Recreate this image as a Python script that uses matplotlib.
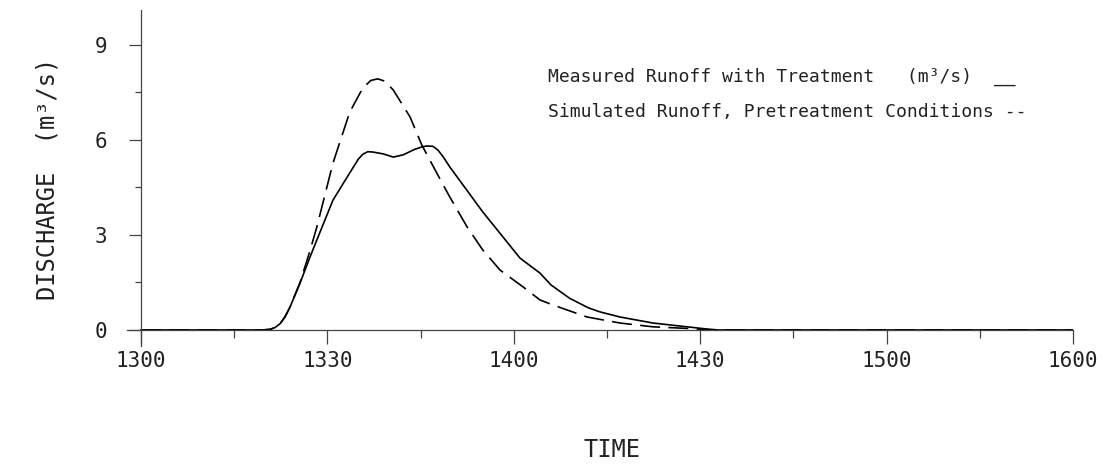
import numpy as np
import matplotlib
matplotlib.use('Agg')
import matplotlib.pyplot as plt

# minutes after 13:00
t_meas = [0, 19.5, 20.8, 21.6, 22.4, 23.2, 24.0, 25.6, 27.2, 28.3, 30.9, 33.6, 35.0,
          35.7, 36.5, 37.3, 39.0, 40.6, 42.2, 44.0, 45.2, 46.0, 47.0, 47.8, 48.6,
          49.7, 52.5, 55.0, 57.8, 61.0, 64.2, 66.0, 69.0, 72.0, 73.9, 77.1, 82.4,
          87.9, 91.1, 93, 150]
q_meas = [0, 0, 0.02, 0.08, 0.2, 0.42, 0.73, 1.48, 2.3, 2.84, 4.10, 4.96, 5.40,
          5.55, 5.63, 5.62, 5.56, 5.46, 5.53, 5.70, 5.78, 5.81, 5.80, 5.68, 5.48,
          5.15, 4.40, 3.73, 3.05, 2.27, 1.80, 1.42, 1.00, 0.70, 0.57, 0.41, 0.22,
          0.10, 0.03, 0, 0]

t_sim = [0, 19.5, 20.8, 21.6, 22.4, 23.2, 24.0, 25.6, 27.2, 28.3, 30.9, 33.6, 35.7,
         37.0, 38.1, 39.2, 40.6, 43.3, 45.2, 47.6, 49.7, 52.5, 55.0, 57.8, 61.5,
         64.2, 66.3, 71.8, 77.1, 82.4, 87.9, 92, 150]
q_sim = [0, 0, 0.02, 0.08, 0.2, 0.42, 0.73, 1.5, 2.5, 3.25, 5.27, 6.88, 7.64,
         7.88, 7.93, 7.86, 7.58, 6.73, 5.84, 4.96, 4.20, 3.25, 2.53, 1.89, 1.36,
         0.95, 0.79, 0.41, 0.22, 0.10, 0.05, 0, 0]

xticks = [0, 30, 60, 90, 120, 150]
xlabels = ['1300', '1330', '1400', '1430', '1500', '1600']
yticks = [0, 3, 6, 9]

plt.rcParams['font.family'] = 'DejaVu Sans Mono'
ink = '#222222'
axc = '#444444'

fig = plt.figure(figsize=(11.12, 4.65), dpi=100)
ax = fig.add_axes([0.1142, 0.2563, 0.8507, 0.7219])

ax.plot(t_meas, q_meas, color='black', lw=1.2)
ax.plot(t_sim, q_sim, color='black', lw=1.2, dashes=(12, 5))

ax.set_xlim(-2.25, 150)
ax.set_ylim(-0.5, 10.1)

for s in ['top', 'right']:
	ax.spines[s].set_visible(False)
ax.spines['left'].set_position(('data', 0))
ax.spines['bottom'].set_position(('data', 0))
for s in ['left', 'bottom']:
	ax.spines[s].set_color(axc)
	ax.spines[s].set_linewidth(0.9)

ax.set_xticks(xticks)
ax.set_xticklabels(xlabels)
ax.set_xticks(np.arange(15, 150, 30), minor=True)
ax.set_yticks(yticks)
ax.set_yticks([1.5, 4.5, 7.5], minor=True)

ax.tick_params(axis='x', which='major', direction='out', length=10, width=0.9,
               pad=5, labelsize=15, colors=axc, labelcolor=ink)
ax.tick_params(axis='x', which='minor', direction='out', length=6, width=0.9,
               colors=axc)
ax.tick_params(axis='y', which='major', direction='out', length=9, width=0.9,
               pad=15, labelsize=15, colors=axc, labelcolor=ink)
ax.tick_params(axis='y', which='minor', direction='out', length=4, width=0.9,
               colors=axc)

fig.text(48 / 1112, 1 - 179 / 465, 'DISCHARGE  (m³/s)', rotation=90,
         ha='center', va='center', fontsize=17, color=ink)
fig.text(612 / 1112, 1 - 450 / 465, 'TIME', ha='center', va='center',
         fontsize=17, color=ink)

# legend text as the plotter wrote it
fs = 13
fig.text(548 / 1112, 1 - 77 / 465, 'Measured Runoff with Treatment   (m³/s)  __',
         ha='left', va='center', fontsize=fs, color=ink)
fig.text(548 / 1112, 1 - 112 / 465, 'Simulated Runoff, Pretreatment Conditions --',
         ha='left', va='center', fontsize=fs, color=ink)

fig.savefig('out.png', dpi=100)
